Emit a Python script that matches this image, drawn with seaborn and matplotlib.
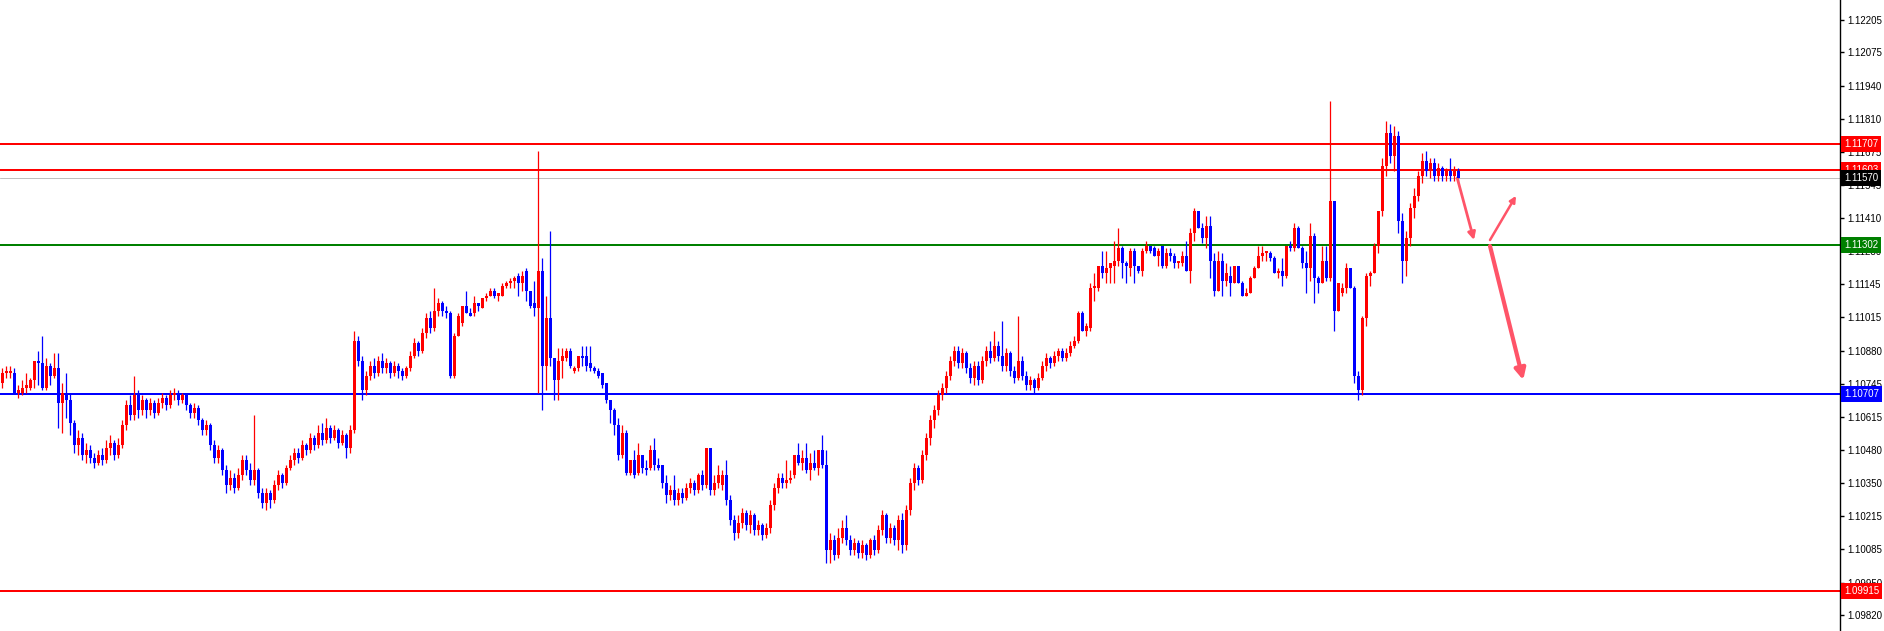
import numpy as np
import pandas as pd
import seaborn as sns
import matplotlib.pyplot as plt
from matplotlib.transforms import blended_transform_factory

# EURUSD-style candles, one per bar
opens = [
    1.1075, 1.1079, 1.1079, 1.1079, 1.1071, 1.1071, 1.1073, 1.1073, 1.1076, 1.1084,
    1.1083, 1.1073, 1.1082, 1.1078, 1.1081, 1.1067, 1.1071, 1.1068, 1.1059, 1.1050,
    1.1053, 1.1046, 1.1048, 1.1045, 1.1043, 1.1046, 1.1044, 1.1049, 1.1051, 1.1046,
    1.1050, 1.1058, 1.1066, 1.1062, 1.1070, 1.1064, 1.1068, 1.1064, 1.1067, 1.1063,
    1.1067, 1.1069, 1.1066, 1.1070, 1.1071, 1.1068, 1.1070, 1.1066, 1.1063, 1.1065,
    1.1060, 1.1056, 1.1058, 1.1050, 1.1045, 1.1048, 1.1040, 1.1034, 1.1037, 1.1033,
    1.1038, 1.1044, 1.1040, 1.1036, 1.1040, 1.1031, 1.1027, 1.1031, 1.1028, 1.1034,
    1.1038, 1.1035, 1.1041, 1.1044, 1.1047, 1.1045, 1.1050, 1.1048, 1.1053, 1.1050,
    1.1055, 1.1052, 1.1057, 1.1053, 1.1056, 1.1051, 1.1054, 1.1049, 1.1056, 1.1092,
    1.1084, 1.1072, 1.1078, 1.1082, 1.1079, 1.1084, 1.1081, 1.1083, 1.1079, 1.1082,
    1.1080, 1.1078, 1.1081, 1.1086, 1.1091, 1.1088, 1.1095, 1.1101, 1.1097, 1.1104,
    1.1107, 1.1104, 1.1103, 1.1078, 1.1094, 1.1099, 1.1106, 1.1103, 1.1103, 1.1107,
    1.1105, 1.1109, 1.1110, 1.1112, 1.1110, 1.1110, 1.1114, 1.1115, 1.1116, 1.1118,
    1.1115, 1.1120, 1.1112, 1.1107, 1.1105, 1.1120, 1.1082, 1.1101, 1.1085, 1.1076,
    1.1084, 1.1085, 1.1088, 1.1080, 1.1081, 1.1086, 1.1086, 1.1083, 1.1081, 1.1080,
    1.1079, 1.1075, 1.1068, 1.1064, 1.1058, 1.1046, 1.1055, 1.1039, 1.1044, 1.1039,
    1.1046, 1.1041, 1.1041, 1.1048, 1.1042, 1.1042, 1.1035, 1.1030, 1.1032, 1.1028,
    1.1031, 1.1029, 1.1033, 1.1035, 1.1032, 1.1038, 1.1034, 1.1049, 1.1032, 1.1035,
    1.1034, 1.1038, 1.1028, 1.1020, 1.1015, 1.1019, 1.1023, 1.1018, 1.1022, 1.1016,
    1.1018, 1.1014, 1.1017, 1.1026, 1.1033, 1.1037, 1.1035, 1.1036, 1.1038, 1.1046,
    1.1043, 1.1045, 1.1040, 1.1043, 1.1041, 1.1048, 1.1042, 1.1008, 1.1012, 1.1006,
    1.1013, 1.1017, 1.1012, 1.1008, 1.1011, 1.1007, 1.1010, 1.1006, 1.1012, 1.1008,
    1.1016, 1.1022, 1.1013, 1.1017, 1.1012, 1.1020, 1.1010, 1.1024, 1.1035, 1.1041,
    1.1036, 1.1046, 1.1053, 1.1060, 1.1064, 1.1070, 1.1073, 1.1078, 1.1084, 1.1088,
    1.1083, 1.1087, 1.1081, 1.1077, 1.1082, 1.1076, 1.1084, 1.1088, 1.1085, 1.1090,
    1.1086, 1.1082, 1.1087, 1.1080, 1.1077, 1.1084, 1.1078, 1.1074, 1.1076, 1.1073,
    1.1077, 1.1082, 1.1085, 1.1083, 1.1086, 1.1088, 1.1085, 1.1087, 1.1090, 1.1092,
    1.1103, 1.1096, 1.1097, 1.1113, 1.1113, 1.1122, 1.1119, 1.1121, 1.1122, 1.1124,
    1.1129, 1.1123, 1.1121, 1.1128, 1.1122, 1.1120, 1.1128, 1.1130, 1.1129, 1.1126,
    1.1130, 1.1122, 1.1127, 1.1126, 1.1123, 1.1123, 1.1126, 1.1120, 1.1135, 1.1144,
    1.1137, 1.1133, 1.1138, 1.1124, 1.1112, 1.1124, 1.1116, 1.1118, 1.1115, 1.1122,
    1.1115, 1.1110, 1.1111, 1.1117, 1.1121, 1.1126, 1.1127, 1.1127, 1.1125, 1.1119,
    1.1120, 1.1118, 1.1130, 1.1129, 1.1137, 1.1129, 1.1123, 1.1121, 1.1134, 1.1117,
    1.1115, 1.1124, 1.1117, 1.1148, 1.1104, 1.1111, 1.1113, 1.1121, 1.1113, 1.1078,
    1.1072, 1.1101, 1.1118, 1.1119, 1.1130, 1.1144, 1.1162, 1.1175, 1.1166, 1.1174,
    1.1140, 1.1124, 1.1133, 1.1145, 1.1150, 1.1158, 1.1164, 1.1160, 1.1163, 1.1158,
    1.1161, 1.1158, 1.1160, 1.1158, 1.1160,
]
highs = [
    1.1081, 1.1082, 1.1082, 1.1081, 1.1074, 1.1076, 1.1079, 1.1077, 1.1084, 1.1088,
    1.1094, 1.1085, 1.1083, 1.1087, 1.1087, 1.1075, 1.1079, 1.1071, 1.1060, 1.1056,
    1.1055, 1.1051, 1.1050, 1.1047, 1.1048, 1.1049, 1.1052, 1.1054, 1.1052, 1.1053,
    1.1060, 1.1068, 1.1070, 1.1078, 1.1072, 1.1070, 1.1069, 1.1069, 1.1068, 1.1069,
    1.1071, 1.1070, 1.1072, 1.1073, 1.1072, 1.1071, 1.1071, 1.1067, 1.1067, 1.1066,
    1.1061, 1.1060, 1.1059, 1.1052, 1.1050, 1.1049, 1.1042, 1.1040, 1.1039, 1.1041,
    1.1046, 1.1046, 1.1043, 1.1062, 1.1041, 1.1033, 1.1033, 1.1032, 1.1036, 1.1040,
    1.1039, 1.1042, 1.1046, 1.1049, 1.1049, 1.1052, 1.1051, 1.1055, 1.1054, 1.1058,
    1.1059, 1.1061, 1.1058, 1.1058, 1.1057, 1.1056, 1.1055, 1.1058, 1.1096, 1.1094,
    1.1086, 1.1080, 1.1084, 1.1085, 1.1086, 1.1087, 1.1085, 1.1084, 1.1084, 1.1083,
    1.1081, 1.1082, 1.1088, 1.1093, 1.1092, 1.1097, 1.1103, 1.1104, 1.1113, 1.1109,
    1.1108, 1.1106, 1.1104, 1.1095, 1.1103, 1.1106, 1.1112, 1.1105, 1.1110, 1.1107,
    1.1109, 1.1111, 1.1113, 1.1113, 1.1111, 1.1115, 1.1116, 1.1117, 1.1118, 1.1119,
    1.1120, 1.1121, 1.1112, 1.1116, 1.1168, 1.1125, 1.1110, 1.1136, 1.1085, 1.1089,
    1.1089, 1.1089, 1.1089, 1.1082, 1.1086, 1.1090, 1.1090, 1.1090, 1.1082, 1.1081,
    1.1079, 1.1075, 1.1068, 1.1065, 1.1061, 1.1058, 1.1056, 1.1044, 1.1048, 1.1051,
    1.1046, 1.1044, 1.1050, 1.1053, 1.1045, 1.1042, 1.1038, 1.1034, 1.1038, 1.1033,
    1.1033, 1.1035, 1.1037, 1.1036, 1.1039, 1.1040, 1.1049, 1.1049, 1.1038, 1.1042,
    1.1040, 1.1044, 1.1030, 1.1022, 1.1022, 1.1025, 1.1024, 1.1024, 1.1023, 1.1020,
    1.1019, 1.1019, 1.1028, 1.1035, 1.1039, 1.1039, 1.1044, 1.1040, 1.1046, 1.1051,
    1.1048, 1.1051, 1.1047, 1.1048, 1.1048, 1.1054, 1.1048, 1.1015, 1.1014, 1.1017,
    1.1020, 1.1022, 1.1014, 1.1013, 1.1012, 1.1012, 1.1011, 1.1013, 1.1014, 1.1018,
    1.1024, 1.1023, 1.1019, 1.1018, 1.1022, 1.1023, 1.1026, 1.1037, 1.1043, 1.1042,
    1.1048, 1.1055, 1.1062, 1.1066, 1.1072, 1.1075, 1.1080, 1.1086, 1.1090, 1.1090,
    1.1089, 1.1088, 1.1083, 1.1084, 1.1084, 1.1086, 1.1090, 1.1092, 1.1096, 1.1092,
    1.1100, 1.1089, 1.1088, 1.1082, 1.1102, 1.1086, 1.1080, 1.1078, 1.1077, 1.1079,
    1.1084, 1.1087, 1.1086, 1.1088, 1.1089, 1.1089, 1.1089, 1.1092, 1.1094, 1.1104,
    1.1104, 1.1099, 1.1115, 1.1119, 1.1122, 1.1128, 1.1128, 1.1123, 1.1132, 1.1137,
    1.1130, 1.1124, 1.1129, 1.1129, 1.1122, 1.1129, 1.1132, 1.1130, 1.1130, 1.1129,
    1.1130, 1.1129, 1.1129, 1.1127, 1.1124, 1.1128, 1.1132, 1.1137, 1.1145, 1.1144,
    1.1139, 1.1142, 1.1142, 1.1127, 1.1128, 1.1127, 1.1123, 1.1122, 1.1122, 1.1122,
    1.1116, 1.1113, 1.1118, 1.1122, 1.1130, 1.1130, 1.1128, 1.1128, 1.1126, 1.1121,
    1.1125, 1.1130, 1.1132, 1.1139, 1.1138, 1.1130, 1.1128, 1.1139, 1.1135, 1.1118,
    1.1130, 1.1130, 1.1188, 1.1148, 1.1115, 1.1115, 1.1123, 1.1121, 1.1114, 1.1080,
    1.1102, 1.1119, 1.1120, 1.1131, 1.1144, 1.1165, 1.1180, 1.1179, 1.1178, 1.1176,
    1.1143, 1.1136, 1.1147, 1.1153, 1.1160, 1.1167, 1.1168, 1.1165, 1.1165, 1.1163,
    1.1162, 1.1161, 1.1165, 1.1162, 1.1161,
]
lows = [
    1.1073, 1.1077, 1.1077, 1.1071, 1.1069, 1.1070, 1.1071, 1.1072, 1.1073, 1.1074,
    1.1072, 1.1072, 1.1074, 1.1077, 1.1057, 1.1055, 1.1061, 1.1054, 1.1047, 1.1046,
    1.1044, 1.1043, 1.1043, 1.1041, 1.1042, 1.1042, 1.1043, 1.1046, 1.1044, 1.1045,
    1.1049, 1.1056, 1.1060, 1.1060, 1.1061, 1.1062, 1.1061, 1.1062, 1.1061, 1.1062,
    1.1065, 1.1064, 1.1065, 1.1068, 1.1066, 1.1067, 1.1064, 1.1061, 1.1061, 1.1058,
    1.1054, 1.1054, 1.1048, 1.1043, 1.1043, 1.1038, 1.1031, 1.1032, 1.1031, 1.1032,
    1.1036, 1.1038, 1.1034, 1.1034, 1.1029, 1.1025, 1.1024, 1.1025, 1.1027, 1.1032,
    1.1033, 1.1034, 1.1040, 1.1042, 1.1043, 1.1044, 1.1046, 1.1047, 1.1048, 1.1049,
    1.1050, 1.1051, 1.1051, 1.1052, 1.1049, 1.1050, 1.1045, 1.1047, 1.1055, 1.1082,
    1.1068, 1.1070, 1.1076, 1.1077, 1.1078, 1.1079, 1.1079, 1.1077, 1.1078, 1.1077,
    1.1076, 1.1077, 1.1080, 1.1085, 1.1086, 1.1087, 1.1093, 1.1095, 1.1096, 1.1102,
    1.1102, 1.1101, 1.1077, 1.1077, 1.1094, 1.1098, 1.1103, 1.1102, 1.1102, 1.1104,
    1.1105, 1.1108, 1.1110, 1.1109, 1.1108, 1.1110, 1.1113, 1.1113, 1.1113, 1.1110,
    1.1112, 1.1108, 1.1105, 1.1102, 1.1071, 1.1064, 1.1072, 1.1082, 1.1068, 1.1068,
    1.1077, 1.1084, 1.1081, 1.1079, 1.1080, 1.1082, 1.1080, 1.1080, 1.1079, 1.1077,
    1.1073, 1.1067, 1.1059, 1.1054, 1.1044, 1.1045, 1.1038, 1.1038, 1.1037, 1.1038,
    1.1039, 1.1038, 1.1040, 1.1040, 1.1040, 1.1033, 1.1027, 1.1028, 1.1026, 1.1026,
    1.1027, 1.1028, 1.1031, 1.1030, 1.1031, 1.1032, 1.1033, 1.1030, 1.1030, 1.1033,
    1.1032, 1.1026, 1.1018, 1.1012, 1.1013, 1.1017, 1.1016, 1.1015, 1.1014, 1.1014,
    1.1012, 1.1013, 1.1015, 1.1024, 1.1031, 1.1033, 1.1033, 1.1035, 1.1037, 1.1042,
    1.1040, 1.1039, 1.1036, 1.1040, 1.1038, 1.1041, 1.1003, 1.1003, 1.1004, 1.1005,
    1.1011, 1.1010, 1.1006, 1.1006, 1.1005, 1.1005, 1.1004, 1.1005, 1.1006, 1.1007,
    1.1014, 1.1011, 1.1011, 1.1010, 1.1008, 1.1007, 1.1008, 1.1022, 1.1032, 1.1034,
    1.1035, 1.1044, 1.1050, 1.1057, 1.1062, 1.1068, 1.1071, 1.1076, 1.1082, 1.1081,
    1.1081, 1.1079, 1.1075, 1.1074, 1.1074, 1.1075, 1.1082, 1.1083, 1.1084, 1.1084,
    1.1080, 1.1080, 1.1078, 1.1075, 1.1076, 1.1076, 1.1072, 1.1072, 1.1071, 1.1072,
    1.1076, 1.1080, 1.1081, 1.1082, 1.1084, 1.1084, 1.1084, 1.1086, 1.1089, 1.1091,
    1.1096, 1.1094, 1.1096, 1.1108, 1.1112, 1.1117, 1.1115, 1.1115, 1.1115, 1.1122,
    1.1117, 1.1115, 1.1118, 1.1115, 1.1119, 1.1118, 1.1127, 1.1127, 1.1126, 1.1122,
    1.1121, 1.1121, 1.1124, 1.1121, 1.1121, 1.1122, 1.1120, 1.1115, 1.1132, 1.1137,
    1.1131, 1.1129, 1.1117, 1.1110, 1.1112, 1.1110, 1.1114, 1.1110, 1.1115, 1.1115,
    1.1110, 1.1110, 1.1111, 1.1117, 1.1121, 1.1124, 1.1124, 1.1124, 1.1119, 1.1117,
    1.1114, 1.1117, 1.1128, 1.1128, 1.1129, 1.1121, 1.1111, 1.1116, 1.1107, 1.1111,
    1.1115, 1.1116, 1.1116, 1.1096, 1.1104, 1.1110, 1.1111, 1.1113, 1.1075, 1.1068,
    1.1070, 1.1098, 1.1114, 1.1119, 1.1127, 1.1142, 1.1158, 1.1163, 1.1160, 1.1135,
    1.1115, 1.1118, 1.1130, 1.1141, 1.1148, 1.1155, 1.1158, 1.1157, 1.1156, 1.1156,
    1.1156, 1.1156, 1.1156, 1.1156, 1.1155,
]
closes = [
    1.1079, 1.1080, 1.1080, 1.1071, 1.1072, 1.1073, 1.1074, 1.1076, 1.1084, 1.1083,
    1.1073, 1.1082, 1.1078, 1.1081, 1.1067, 1.1071, 1.1068, 1.1059, 1.1050, 1.1053,
    1.1046, 1.1048, 1.1045, 1.1043, 1.1046, 1.1044, 1.1049, 1.1051, 1.1046, 1.1050,
    1.1058, 1.1066, 1.1062, 1.1070, 1.1064, 1.1068, 1.1064, 1.1067, 1.1063, 1.1067,
    1.1069, 1.1066, 1.1070, 1.1071, 1.1068, 1.1070, 1.1066, 1.1063, 1.1065, 1.1060,
    1.1056, 1.1058, 1.1050, 1.1045, 1.1048, 1.1040, 1.1034, 1.1037, 1.1033, 1.1038,
    1.1044, 1.1040, 1.1036, 1.1040, 1.1031, 1.1027, 1.1031, 1.1028, 1.1034, 1.1038,
    1.1035, 1.1041, 1.1044, 1.1047, 1.1045, 1.1050, 1.1048, 1.1053, 1.1050, 1.1055,
    1.1052, 1.1057, 1.1053, 1.1056, 1.1051, 1.1054, 1.1049, 1.1056, 1.1092, 1.1084,
    1.1072, 1.1078, 1.1082, 1.1079, 1.1084, 1.1081, 1.1083, 1.1079, 1.1082, 1.1080,
    1.1078, 1.1081, 1.1086, 1.1091, 1.1088, 1.1095, 1.1101, 1.1097, 1.1104, 1.1107,
    1.1104, 1.1103, 1.1078, 1.1094, 1.1102, 1.1106, 1.1103, 1.1102, 1.1107, 1.1106,
    1.1109, 1.1110, 1.1112, 1.1110, 1.1111, 1.1114, 1.1115, 1.1116, 1.1117, 1.1115,
    1.1118, 1.1112, 1.1106, 1.1105, 1.1120, 1.1082, 1.1101, 1.1085, 1.1076, 1.1084,
    1.1086, 1.1088, 1.1082, 1.1081, 1.1086, 1.1085, 1.1082, 1.1081, 1.1080, 1.1078,
    1.1074, 1.1068, 1.1064, 1.1058, 1.1046, 1.1055, 1.1039, 1.1044, 1.1038, 1.1046,
    1.1041, 1.1040, 1.1048, 1.1042, 1.1041, 1.1035, 1.1030, 1.1032, 1.1028, 1.1031,
    1.1029, 1.1033, 1.1035, 1.1032, 1.1038, 1.1034, 1.1049, 1.1032, 1.1035, 1.1038,
    1.1038, 1.1028, 1.1020, 1.1015, 1.1019, 1.1023, 1.1018, 1.1022, 1.1016, 1.1018,
    1.1014, 1.1017, 1.1026, 1.1033, 1.1037, 1.1035, 1.1036, 1.1037, 1.1046, 1.1043,
    1.1045, 1.1040, 1.1043, 1.1041, 1.1048, 1.1042, 1.1008, 1.1012, 1.1006, 1.1013,
    1.1017, 1.1012, 1.1008, 1.1011, 1.1007, 1.1010, 1.1006, 1.1012, 1.1008, 1.1016,
    1.1022, 1.1013, 1.1017, 1.1012, 1.1020, 1.1010, 1.1024, 1.1035, 1.1041, 1.1036,
    1.1046, 1.1053, 1.1060, 1.1064, 1.1070, 1.1073, 1.1078, 1.1084, 1.1088, 1.1083,
    1.1087, 1.1081, 1.1077, 1.1082, 1.1076, 1.1084, 1.1088, 1.1085, 1.1090, 1.1086,
    1.1082, 1.1087, 1.1080, 1.1077, 1.1084, 1.1078, 1.1074, 1.1076, 1.1073, 1.1077,
    1.1082, 1.1085, 1.1083, 1.1086, 1.1088, 1.1085, 1.1087, 1.1090, 1.1092, 1.1103,
    1.1096, 1.1098, 1.1113, 1.1114, 1.1122, 1.1119, 1.1121, 1.1123, 1.1124, 1.1129,
    1.1123, 1.1122, 1.1128, 1.1122, 1.1120, 1.1128, 1.1130, 1.1128, 1.1126, 1.1128,
    1.1122, 1.1127, 1.1126, 1.1123, 1.1124, 1.1126, 1.1120, 1.1135, 1.1144, 1.1137,
    1.1133, 1.1138, 1.1124, 1.1112, 1.1124, 1.1116, 1.1119, 1.1115, 1.1122, 1.1115,
    1.1110, 1.1111, 1.1117, 1.1121, 1.1126, 1.1127, 1.1128, 1.1125, 1.1119, 1.1120,
    1.1118, 1.1130, 1.1129, 1.1137, 1.1129, 1.1123, 1.1121, 1.1134, 1.1117, 1.1115,
    1.1124, 1.1117, 1.1148, 1.1104, 1.1115, 1.1113, 1.1121, 1.1113, 1.1078, 1.1072,
    1.1101, 1.1118, 1.1119, 1.1130, 1.1144, 1.1162, 1.1175, 1.1166, 1.1174, 1.1140,
    1.1124, 1.1133, 1.1145, 1.1150, 1.1158, 1.1164, 1.1160, 1.1163, 1.1158, 1.1161,
    1.1158, 1.1160, 1.1158, 1.1160, 1.1157,
]

# horizontal levels drawn on the chart, with their price-scale tags
level_prices = [1.11707, 1.11603, 1.11570, 1.11302, 1.10707, 1.09915]
level_colors = ["#ff0000", "#ff0000", "#c0c0c0", "#008000", "#0000ff", "#ff0000"]
tag_colors = ["#ff0000", "#ff0000", "#000000", "#008000", "#0000ff", "#ff0000"]
level_widths = [2.0, 2.0, 1.0, 2.0, 2.0, 2.0]

tick_values = [1.12205, 1.12075, 1.11940, 1.11810, 1.11675, 1.11545, 1.11410,
               1.11280, 1.11145, 1.11015, 1.10880, 1.10745, 1.10615, 1.10480,
               1.10350, 1.10215, 1.10085, 1.09950, 1.09820]

# hand-drawn projection arrows: (bar, price) start -> end
arrows = [
    ((363.8, 1.11572), (368.0, 1.11323), 2.0, 11),
    ((372.0, 1.11323), (378.5, 1.11500), 1.8, 9),
    ((372.0, 1.11299), (380.3, 1.10762), 3.0, 16),
]

df = pd.DataFrame({"open": opens, "high": highs, "low": lows, "close": closes})
df["bar"] = np.arange(len(df))
df["color"] = np.where(df["close"] >= df["open"], "#ff0000", "#0000ff")

sns.set_style("white")
plt.rcParams["font.family"] = ["Liberation Sans", "DejaVu Sans"]

fig = plt.figure(figsize=(18.84, 6.31), dpi=100)
ax = fig.add_axes([0, 0, 1840 / 1884, 1])

# level lines go under the candles
for p, c, w in zip(level_prices, level_colors, level_widths):
    ax.axhline(p, color=c, lw=w * 0.72, zorder=1)

# wicks then bodies
ax.vlines(df["bar"], df["low"], df["high"], colors=df["color"], lw=0.9, zorder=3)
body_low = np.minimum(df["open"], df["close"])
body_h = np.maximum((df["close"] - df["open"]).abs(), 0.00004)
ax.bar(df["bar"], body_h, bottom=body_low, width=0.75, color=df["color"],
       linewidth=0, zorder=4)

for (x0, y0), (x1, y1), w, ms in arrows:
    ax.annotate("", xy=(x1, y1), xytext=(x0, y0),
                arrowprops=dict(arrowstyle="-|>", color="#ff5468", lw=w,
                                mutation_scale=ms, shrinkA=0, shrinkB=0))

ax.set_xlim(-0.5, 459.5)
ax.set_ylim(1.09756, 1.12285)
ax.set_xticks([])
ax.yaxis.tick_right()
ax.set_yticks(tick_values)
ax.set_yticklabels([f"{v:.5f}" for v in tick_values])
ax.tick_params(axis="y", direction="out", length=3, width=1, pad=2,
               labelsize=7, colors="black")
for side in ["top", "left", "bottom"]:
    ax.spines[side].set_visible(False)
ax.spines["right"].set_color("black")
ax.spines["right"].set_linewidth(1)

# price tags on the scale
trans = blended_transform_factory(ax.transAxes, ax.transData)
for p, c in zip(level_prices, tag_colors):
    ax.text(1.0 + 4 / 1840, p, f"{p:.5f}", transform=trans, ha="left",
            va="center", color="white", fontsize=7, clip_on=False, zorder=10,
            bbox=dict(boxstyle="square,pad=0.3", fc=c, ec="none"))

fig.savefig("out.png", dpi=100)
